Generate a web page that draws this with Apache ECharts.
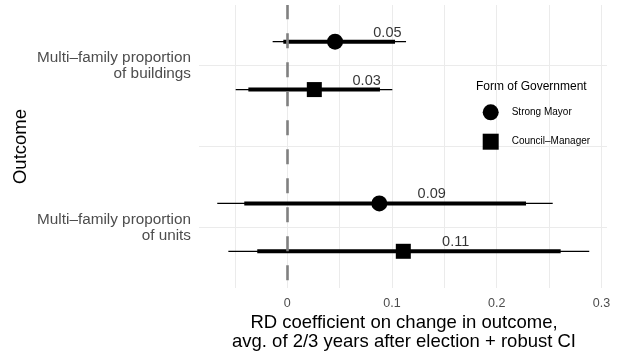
<!DOCTYPE html>
<html>
<head>
<meta charset="utf-8">
<script src="https://cdn.jsdelivr.net/npm/echarts@6/dist/echarts.min.js"></script>
<style>
  html, body { margin: 0; padding: 0; background: #fff; }
  #main { width: 619px; height: 358px; }
</style>
</head>
<body>
<div id="main"></div>
<script>
// outcomes sit at y = 1 (units) and y = 2 (buildings)
var outcomes = ['Multi\u2013family proportion\nof units', 'Multi\u2013family proportion\nof buildings'];
var outcomePos = [1, 2];

// Strong Mayor
var estMayor = [0.0879, 0.0456];
var outerMayor = [[-0.0669, 0.2535], [-0.0140, 0.1134]];
var innerMayor = [[-0.0411, 0.2280], [-0.0038, 0.1029]];

// Council-Manager
var estManager = [0.1108, 0.0258];
var outerManager = [[-0.0563, 0.2884], [-0.0493, 0.1003]];
var innerManager = [[-0.0287, 0.2611], [-0.0372, 0.0885]];

var xTicks = [0, 0.1, 0.2, 0.3];
var xGrid = [-0.05, 0, 0.05, 0.1, 0.15, 0.2, 0.25, 0.3];
var yGrid = [1, 1.5, 2];
var dodge = 0.148;
var labelShift = 0.05;

var font = 'Liberation Sans, Arial, sans-serif';
var chart = echarts.init(document.getElementById('main'));

function ciRows(est, outer, inner, sign) {
  return est.map(function (e, i) {
    return [outcomePos[i] + sign * dodge, outer[i][0], outer[i][1], inner[i][0], inner[i][1]];
  });
}
function pointRows(est, sign) {
  return est.map(function (e, i) { return [e, outcomePos[i] + sign * dodge]; });
}
function labelRows(est, sign) {
  return est.map(function (e, i) { return [e + labelShift, outcomePos[i] + sign * dodge, e.toFixed(2)]; });
}

function ciItem(params, api) {
  var y = api.value(0);
  var a = api.coord([api.value(1), y]), b = api.coord([api.value(2), y]);
  var c = api.coord([api.value(3), y]), d = api.coord([api.value(4), y]);
  return {
    type: 'group',
    children: [
      { type: 'line', shape: { x1: a[0], y1: a[1], x2: b[0], y2: b[1] }, style: { stroke: '#000', lineWidth: 1.2 } },
      { type: 'line', shape: { x1: c[0], y1: c[1], x2: d[0], y2: d[1] }, style: { stroke: '#000', lineWidth: 4 } }
    ]
  };
}

var gridLines = xGrid.map(function (v) { return { xAxis: v }; })
  .concat(yGrid.map(function (v) { return { yAxis: v }; }));

var option = {
  animation: false,
  textStyle: { fontFamily: font },
  grid: { left: 199, top: 5, width: 408, height: 283 },
  xAxis: {
    type: 'value',
    min: -0.08434,
    max: 0.30535,
    axisLine: { show: false },
    axisTick: { show: false },
    splitLine: { show: false },
    axisLabel: {
      customValues: xTicks,
      fontSize: 12.5,
      color: '#4d4d4d',
      margin: 9,
      fontFamily: font
    }
  },
  yAxis: {
    type: 'value',
    min: 0.625,
    max: 2.375,
    axisLine: { show: false },
    axisTick: { show: false },
    splitLine: { show: false },
    axisLabel: {
      customValues: outcomePos,
      formatter: function (v) { return outcomes[outcomePos.indexOf(v)]; },
      fontSize: 15.3,
      lineHeight: 16,
      color: '#4d4d4d',
      align: 'right',
      margin: 8,
      padding: [3, 0, 0, 0],
      fontFamily: font
    }
  },
  legend: {
    orient: 'vertical',
    left: 477.7,
    top: 99.3,
    z: 4,
    itemWidth: 16,
    itemHeight: 16,
    itemGap: 13.4,
    selectedMode: false,
    data: [{ name: 'Strong Mayor', icon: 'circle' }, { name: 'Council\u2013Manager', icon: 'rect' }],
    textStyle: { fontSize: 10, color: '#000', fontFamily: font, padding: [0, 0, 0, 8] }
  },
  graphic: [
    {
      type: 'text', x: 21, y: 146.5, rotation: Math.PI / 2,
      style: { text: 'Outcome', fontSize: 18.5, fontFamily: font, fill: '#000', align: 'center', verticalAlign: 'middle' }
    },
    {
      type: 'text', x: 404, y: 332.5,
      style: {
        text: 'RD coefficient on change in outcome,\navg. of 2/3 years after election + robust CI',
        fontSize: 18.5, lineHeight: 18.5, fontFamily: font, fill: '#000', align: 'center', verticalAlign: 'middle'
      }
    },
    {
      type: 'text', x: 476, y: 86.7,
      style: { text: 'Form of Government', fontSize: 12, fontFamily: font, fill: '#000', align: 'left', verticalAlign: 'middle' }
    }
  ],
  series: [
    {
      // background grid
      type: 'scatter', data: [], z: 1, silent: true,
      markLine: {
        z: 1, silent: true, symbol: ['none', 'none'], label: { show: false },
        lineStyle: { color: '#ebebeb', width: 1, type: 'solid' },
        data: gridLines
      }
    },
    {
      type: 'custom', z: 2, silent: true,
      renderItem: ciItem,
      encode: { x: [1, 2, 3, 4], y: 0 },
      data: ciRows(estMayor, outerMayor, innerMayor, 1)
    },
    {
      type: 'custom', z: 2, silent: true,
      renderItem: ciItem,
      encode: { x: [1, 2, 3, 4], y: 0 },
      data: ciRows(estManager, outerManager, innerManager, -1)
    },
    {
      // zero reference line
      type: 'scatter', data: [], z: 3, silent: true,
      markLine: {
        z: 3, silent: true, symbol: ['none', 'none'], label: { show: false },
        lineStyle: { color: '#808080', width: 2.6, type: [15, 14], dashOffset: 21.3 },
        data: [{ xAxis: 0 }]
      }
    },
    {
      name: 'Strong Mayor', type: 'scatter', z: 5,
      symbol: 'circle', symbolSize: 16,
      itemStyle: { color: '#000', opacity: 1 },
      data: pointRows(estMayor, 1)
    },
    {
      name: 'Council\u2013Manager', type: 'scatter', z: 5,
      symbol: 'rect', symbolSize: 15,
      itemStyle: { color: '#000', opacity: 1 },
      data: pointRows(estManager, -1)
    },
    {
      // estimate labels
      type: 'scatter', z: 6, silent: true,
      symbolSize: 1,
      itemStyle: { color: 'transparent' },
      data: labelRows(estMayor, 1).concat(labelRows(estManager, -1)),
      label: {
        show: true, position: 'inside', offset: [0, -9],
        fontSize: 14.5, color: '#000', fontFamily: font,
        formatter: function (p) { return p.value[2]; }
      }
    }
  ]
};

chart.setOption(option);
</script>
</body>
</html>
